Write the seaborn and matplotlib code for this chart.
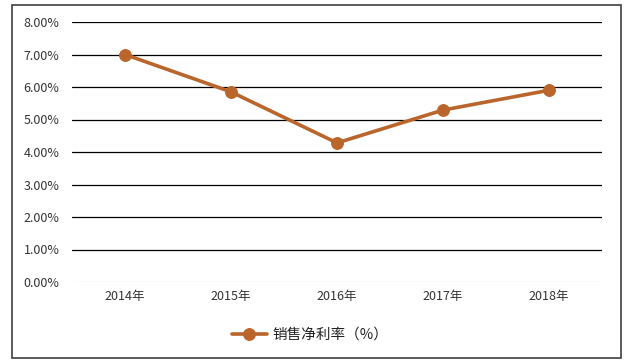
import matplotlib
matplotlib.use("Agg")
import matplotlib.pyplot as plt
import seaborn as sns
import pandas as pd
from matplotlib.patches import Rectangle

years = ["2014年", "2015年", "2016年", "2017年", "2018年"]
net_margin = [7.00, 5.85, 4.28, 5.29, 5.90]
series_name = "销售净利率（%）"
yticks = [0, 1, 2, 3, 4, 5, 6, 7, 8]

sns.set_style("white")
plt.rcParams["font.family"] = ["Noto Sans CJK SC", "DejaVu Sans"]

df = pd.DataFrame({"year": years, "value": net_margin})

fig = plt.figure(figsize=(6.4, 3.64), dpi=100)
ax = fig.add_axes([72/640, 1-282/364, (602-72)/640, (282-22)/364])

color = "#B9652B"
sns.lineplot(data=df, x="year", y="value", ax=ax, color=color, marker="o",
             markersize=8.5, linewidth=2.6, markeredgecolor=color,
             label=series_name, sort=False)

ax.set_xlim(-0.5, len(years) - 0.5)
ax.set_ylim(0, 8)
ax.set_yticks(yticks)
ax.set_yticklabels([f"{v:.2f}%" for v in yticks])
ax.set_xlabel("")
ax.set_ylabel("")
ax.tick_params(axis="both", length=0, labelsize=9, colors="#333333")
ax.tick_params(axis="y", pad=9)
ax.tick_params(axis="x", pad=6)

ax.yaxis.grid(True, color="black", linewidth=0.9)
ax.xaxis.grid(False)
ax.set_axisbelow(True)
gl = ax.get_ygridlines()
gl[0].set_color("#E6E6E6")
for s in ax.spines.values():
    s.set_visible(False)

ax.legend(loc="center", bbox_to_anchor=(310/640, 1-335/364),
          bbox_transform=fig.transFigure, frameon=False, fontsize=10.5,
          handlelength=2.4, handletextpad=0.4, labelcolor="#222222")

fig.patches.append(Rectangle((12/640, 1-358/364), (621-12)/640, (358-5)/364,
                             transform=fig.transFigure, fill=False,
                             edgecolor="#404040", linewidth=1.2))

fig.savefig("out.png", dpi=100)
